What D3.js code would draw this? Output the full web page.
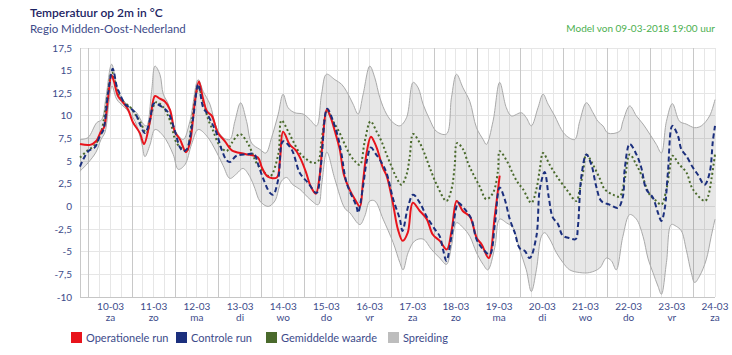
<!DOCTYPE html>
<html><head><meta charset="utf-8">
<script src="https://cdn.jsdelivr.net/npm/d3@7/dist/d3.min.js"></script>
<style>
html,body{margin:0;padding:0;background:#fff;}
svg{display:block;font-family:Lato,"Noto Sans",sans-serif;}
</style></head>
<body><svg id="chart" width="732" height="355"></svg>
<script>
// ---- data (hours after model run 09-03-2018 19:00) ----
const opHours  = [0,5.6,8.9,11.7,13.3,15.6,17.5,18.9,21.1,23.9,26.7,29.4,33.3,35.6,38.9,41.7,44.4,47.2,50,52.8,55.6,58.9,61.1,63.9,66.1,68.3,70.6,73.3,76.7,80.6,84.4,91.7,98.9,101.1,104.4,109.4,111.1,112.9,116.7,120,122.8,125.6,128.3,131.1,133.3,135,137.2,139.4,141.7,144.4,146.7,150,152.8,155.6,157.2,159.4,161.7,163.9,165.6,168.3,170.6,173.9,176.7,179.4,182.2,185,188.9,192.8,196.1,200,203.9,206.7,209.4,212.8,216.7,220.6,223.3,227.2,230.6,233.3];
const opValues = [6.9,6.8,7.2,8.3,8.7,12.0,14.5,13.8,12.2,11.5,10.7,9.3,8.1,6.9,9.4,12.2,11.9,11.6,10.7,8.2,7.4,6.0,7.0,11.6,13.8,12.0,10.5,10.0,8.1,7.2,6.2,5.8,5.4,4.3,3.3,3.2,5.0,8.25,6.8,6.2,5.2,3.8,2.2,1.4,3.5,7.5,10.7,9.8,8.3,6.3,3.5,1.8,0.8,0.0,2.5,6.0,7.7,7.0,6.1,4.3,3.3,0.4,-2.5,-3.8,-2.9,0.4,-0.5,-1.4,-3.1,-3.8,-4.75,-2.5,0.6,-0.5,-1.1,-3.5,-4.2,-5.7,-1.0,3.4];

const ctrlHours  = [0,1.8,4.6,8.3,11.1,12.9,15.6,18.2,20.4,22.2,25,27.8,30.6,33.3,36.1,38.9,40.7,41.7,46.3,49.1,52.8,55.6,57.4,59.3,62.9,65.7,68.5,70.4,73.2,75.9,78.7,81.5,83.3,87,92.6,96.7,99.1,101.8,105.6,107.4,110.2,112.9,117.6,122.2,126.8,131.5,133.9,137.4,140.7,143.5,145.4,148.2,153.7,154.6,157.2,159.4,161.7,164.4,167.2,170.4,174.1,177.8,179.3,182.4,185.2,188.9,192.6,197.2,200,201.8,203.7,206.5,209.3,210.2,213.9,217.6,220.4,224.1,227.8,230.6,233.3,236.1,238.9,241.7,244.4,247.2,250,253.7,255.6,258.3,260.6,262.8,265.6,268.3,272.2,275.6,276.8,278.7,281.5,284.3,287,289.8,294.4,299.1,301.8,302.8,305.6,309.3,312,314.8,318.5,321.3,323.2,325,326.8,329.3,332.4,334.3,337,340.7,343.5,347.2,350,351.8,353];
const ctrlValues = [4.4,5.2,6.1,6.55,7.8,8.4,12.5,15.2,13.3,12.4,11.3,10.9,10.35,9.1,8.1,9.6,11.3,11.4,10.9,10.35,8.3,6.5,6.1,6.3,9.8,13.5,10.9,10.35,9.25,8.1,6.3,5.1,4.9,5.6,5.75,5.8,4.6,3.1,1.5,1.3,3.0,7.2,6.3,3.7,2.6,1.5,4.5,10.8,9.4,7.6,5.75,2.6,0.0,-0.7,2.0,5.0,6.5,5.8,5.0,3.7,0.8,-1.4,-2.7,0.0,1.3,0.4,-1.07,-2.5,-3.3,-4.75,-6.0,-3.3,0.0,0.4,-0.3,-1.4,-3.6,-4.75,-5.3,-2.0,2.1,0.8,-1.4,-2.9,-4.6,-4.9,-5.7,-3.3,1.9,3.8,1.0,-1.2,-1.9,-3.2,-3.5,-3.6,-2.2,3.3,5.75,4.6,2.2,0.6,0.2,-0.15,1.1,4.1,6.9,5.75,4.3,1.9,0.96,-0.7,-1.6,-0.3,3.7,8.9,7.8,6.3,5.6,4.3,3.5,2.4,3.7,7.2,8.9];

const meanHours  = [0,3.7,8.3,11.7,14.4,17.8,20.6,23.3,27.8,30.6,33.3,37,39.4,42.2,46.1,50,53.7,57.4,59.3,62.2,65.7,68.5,71.3,74.1,76.8,79.6,81.5,84.3,88.9,92.6,95.4,98.1,101.8,105.6,110.2,112,115.7,118.5,122.2,126,129.6,132.4,134.4,137.4,140.7,144.4,147.2,150,152.8,155.6,158.3,161.5,164.8,167.6,170.4,173.1,175.9,178.7,181.5,183.3,185.2,188.9,191.7,194.4,198.1,203.7,206.5,208.3,209.6,213,215.7,218.5,222.2,225.9,229.6,232.4,233.3,237.9,240.7,243.5,246.3,250.9,253.7,255.6,257.4,261.1,264.8,270.4,275.9,277.8,279.6,281.5,285.2,288.9,291.7,296.3,300,302.8,305.6,309.3,313,316.7,320.4,323.2,326,327.8,329.3,333.3,337,340.7,347.4,349.1,351,353];
const meanValues = [5.4,6.1,6.8,8.2,11,14.8,12.8,11.7,11.0,10.2,9.4,8.1,10,11.5,11.0,9.5,7.0,6.3,6.1,9.5,13.1,11.6,9.6,8.3,7.0,6.3,6.1,7.0,8.0,7.2,6.1,4.8,3.9,3.3,5.75,9.5,8.3,7.2,5.9,5.2,4.8,5.0,7.5,10.5,9.4,8.1,6.85,5.75,5.0,4.6,7.2,9.4,8.3,7.2,5.75,4.45,3.2,2.4,3.5,5.5,8.0,7.0,5.75,4.3,2.5,0.6,1.9,4.5,7.0,6.3,4.8,3.6,2.2,0.8,1.5,4.0,6.1,4.8,3.6,2.6,1.9,0.4,1.9,4.1,5.9,4.6,3.4,1.9,0.6,1.9,3.7,5.75,4.6,3.1,1.9,1.3,1.1,3.0,5.75,4.6,3.1,1.3,0.6,0.2,1.9,4.1,5.6,4.6,3.8,1.9,0.6,1.1,3.0,5.75];

const spreadUpperHours  = [0,4.4,9.3,12.1,14.4,17.6,21.3,25.9,31.5,35.2,37,39.8,41.7,44.4,46.3,49.1,51.8,53.7,57.4,61.1,65.7,68.5,72.2,75.9,79.6,83.3,86.1,89.3,92.6,95.4,100,103.3,106.5,110.2,112.9,115.7,119.4,124.1,127.8,131.5,134.3,137,141.7,145.4,148.2,151.8,154.6,157.4,161.1,163.9,166.7,170.4,174.1,177.8,181.5,185.2,188,190.7,194.4,198.1,203.7,206.5,209.3,212.9,216.7,220.4,224.1,225.9,229.6,233.3,237,239.8,245.4,248.1,250.9,254.6,257.4,260.2,263.9,267.6,270.4,275,277.8,281.5,285.2,287.9,290.7,293.5,300,301.8,305.6,309.3,313,316.7,320.4,323.2,326,329.3,333.3,337,341.7,345.4,350,353];
const spreadUpperValues = [7.4,7.6,9.25,9.6,12.0,15.7,12.7,11.3,10.35,9.1,8.9,12.7,15.5,14.6,12.4,11.3,8.9,8.1,7.4,9.4,14.0,12.7,11.3,8.7,7.6,7.4,9.4,11.45,9.4,7.0,6.3,5.9,7.6,10.2,12.4,10.9,10.35,10.2,9.6,8.9,12.4,14.6,14.0,13.5,12.7,11.3,10.2,12.4,15.5,14.2,12.0,10.2,9.25,8.9,9.8,13.7,13.1,11.3,9.6,8.3,8.0,12.0,14.6,13.1,11.6,8.7,7.4,6.85,9.4,13.7,10.9,10.0,10.35,9.8,8.9,10.9,12.4,11.3,10.0,8.5,7.8,7.4,9.4,11.45,10.35,9.4,8.9,8.1,8.3,9.4,11.1,10.0,9.1,8.0,6.85,5.9,9.4,11.35,9.4,9.1,8.7,8.9,10.0,11.8];

const spreadLowerHours  = [0,4.4,8.9,11.7,13.9,16.1,17.8,20,21.3,25.9,30.6,34.3,36.1,38.9,41.7,46.3,51.8,54.6,58.3,62,65.7,70.4,75.9,79.6,83.3,87,90.6,94.4,97.2,100,104.6,108.3,112,114.8,118.3,122.2,127.8,132.4,134.4,137.2,141.7,147.2,150,155.6,158.3,161.1,163.9,168.5,174.1,177.8,179.6,182.4,186.1,190.7,195.4,200,203.7,206.5,209.3,213,216.7,220.4,224.1,226.7,230.6,233.3,237,240.7,244.4,248.1,250.9,253.7,256.5,258.3,261.1,264.8,268.5,272.2,277.8,283.3,288.9,292.6,295.4,298.1,301.8,305.6,309.3,313,315.7,318.5,321.3,323.2,326,328.7,331.5,334.3,337,339.8,341.7,344.4,348.1,350.9,353];
const spreadLowerValues = [3.9,4.8,6.0,7.4,8.2,11.5,13.3,12.0,11.6,10.7,9.4,7.0,5.5,6.8,8.5,7.8,5.75,4.1,4.6,6.85,8.5,7.8,6.0,4.5,3.1,3.6,4.2,3.3,2.0,0.6,0.0,0.6,2.8,3.2,2.4,1.9,0.8,0.2,2.5,6.0,3.0,-0.2,-0.7,-2.0,-1.07,0.6,0.6,-1.4,-4.0,-6.2,-7.0,-5.1,-3.8,-3.6,-4.75,-5.7,-6.4,-4.4,-1.8,-2.35,-3.3,-5.1,-6.4,-7.0,-4.5,-1.4,-1.8,-2.35,-4.75,-7.0,-9.4,-7.0,-3.3,-2.9,-3.6,-5.1,-6.2,-7.0,-7.3,-7.3,-6.8,-5.7,-6.0,-7.0,-3.3,-0.9,-1.4,-3.3,-5.7,-7.3,-8.8,-9.7,-6.2,-2.0,-2.2,-2.7,-4.75,-7.3,-8.4,-7.7,-5.9,-3.3,-1.4];

const yTicks = [-10,-7.5,-5,-2.5,0,2.5,5,7.5,10,12.5,15,17.5];
const dayLabels = ["10-03","11-03","12-03","13-03","14-03","15-03","16-03","17-03","18-03","19-03","20-03","21-03","22-03","23-03","24-03"];
const dayNames  = ["za","zo","ma","di","wo","do","vr","za","zo","ma","di","wo","do","vr","za"];
const legendLabels = ["Operationele run","Controle run","Gemiddelde waarde","Spreiding"];
const legendColors = ["#e8141c","#1b2f7d","#4a6a2c","#bdbdbd"];

// ---- drawing ----
const svg = d3.select("#chart");
const start = new Date(2018,2,9,19,0);
const end = new Date(2018,2,24,12,0);
const tAt = h => new Date(start.getTime() + h*3600e3);
const x = d3.scaleTime().domain([start,end]).range([80,715]);
const y = d3.scaleLinear().domain([-10,17.5]).range([297,48]);

const g = svg.append("g");
// horizontal grid
g.selectAll("line.h").data(yTicks).join("line")
  .attr("x1",80).attr("x2",715).attr("y1",d=>y(d)).attr("y2",d=>y(d))
  .attr("stroke",d=>d===-10?"#c6c6c6":"#e6e6e6").attr("stroke-width",1)
  .attr("shape-rendering","crispEdges");
// vertical grid every 6 h
const vt = d3.timeHour.every(6).range(new Date(2018,2,10,0,0), new Date(end.getTime()+1));
g.selectAll("line.v").data(vt).join("line")
  .attr("x1",d=>x(d)).attr("x2",d=>x(d)).attr("y1",48).attr("y2",297)
  .attr("stroke",d=>d.getHours()===0?"#c8c8c8":"#e6e6e6").attr("stroke-width",1)
  .attr("shape-rendering","crispEdges");
g.append("line").attr("x1",80).attr("x2",80).attr("y1",48).attr("y2",297)
  .attr("stroke","#c8c8c8").attr("shape-rendering","crispEdges");

// y labels
g.selectAll("text.yl").data(yTicks).join("text")
  .attr("x",72).attr("y",d=>y(d)+3.5).attr("text-anchor","end")
  .attr("font-size",10).attr("fill","#3d4b8a")
  .text(d=>String(d).replace(".",","));

// x labels
dayLabels.forEach((lab,i)=>{
  const t = new Date(2018,2,10+i,12,0);
  g.append("text").attr("x",x(t)).attr("y",310).attr("text-anchor","middle")
    .attr("font-size",10).attr("fill","#3d4b8a").text(lab);
  g.append("text").attr("x",x(t)).attr("y",321).attr("text-anchor","middle")
    .attr("font-size",10).attr("fill","#3d4b8a").text(dayNames[i]);
});

// spread band
const up = spreadUpperHours.map((h,i)=>[tAt(h),spreadUpperValues[i]]);
const lo = spreadLowerHours.map((h,i)=>[tAt(h),spreadLowerValues[i]]).reverse();
const ln = d3.line().x(d=>x(d[0])).y(d=>y(d[1])).curve(d3.curveCatmullRom.alpha(0.5));
const bandPath = ln(up) + ln(lo).replace(/^M/,"L") + "Z";
g.append("path").attr("d",bandPath).attr("fill","rgba(0,0,0,0.095)").attr("stroke","none");
g.append("path").attr("d",ln(up)).attr("fill","none").attr("stroke","#a9a9a9").attr("stroke-width",1);
g.append("path").attr("d",ln(lo)).attr("fill","none").attr("stroke","#a9a9a9").attr("stroke-width",1);

function series(hours, vals, color, dash){
  const data = hours.map((h,i)=>[tAt(h),vals[i]]);
  g.append("path").attr("d",ln(data)).attr("fill","none")
    .attr("stroke",color).attr("stroke-width",2)
    .attr("stroke-dasharray",dash||null).attr("stroke-linejoin","round");
}
series(meanHours, meanValues, "#4a6a2c", "2,2.5");
series(opHours, opValues, "#e8141c", null);
series(ctrlHours, ctrlValues, "#1b2f7d", "5,3");

// titles
svg.append("text").attr("x",30).attr("y",17).attr("font-size",12).attr("font-weight",600)
  .attr("fill","#1c2463").text("Temperatuur op 2m in °C");
svg.append("text").attr("x",30).attr("y",33).attr("font-size",11.5)
  .attr("fill","#3d4b8a").text("Regio Midden-Oost-Nederland");
svg.append("text").attr("x",715).attr("y",32).attr("text-anchor","end").attr("font-size",10)
  .attr("fill","#4caf50").text("Model von 09-03-2018 19:00 uur");

// legend
const legX = [71,176,266,388];
legendLabels.forEach((lab,i)=>{
  svg.append("rect").attr("x",legX[i]).attr("y",332).attr("width",11).attr("height",11)
    .attr("fill",legendColors[i]);
  svg.append("text").attr("x",legX[i]+15).attr("y",341.5).attr("font-size",11)
    .attr("fill","#3d4b8a").text(lab);
});
</script></body></html>
